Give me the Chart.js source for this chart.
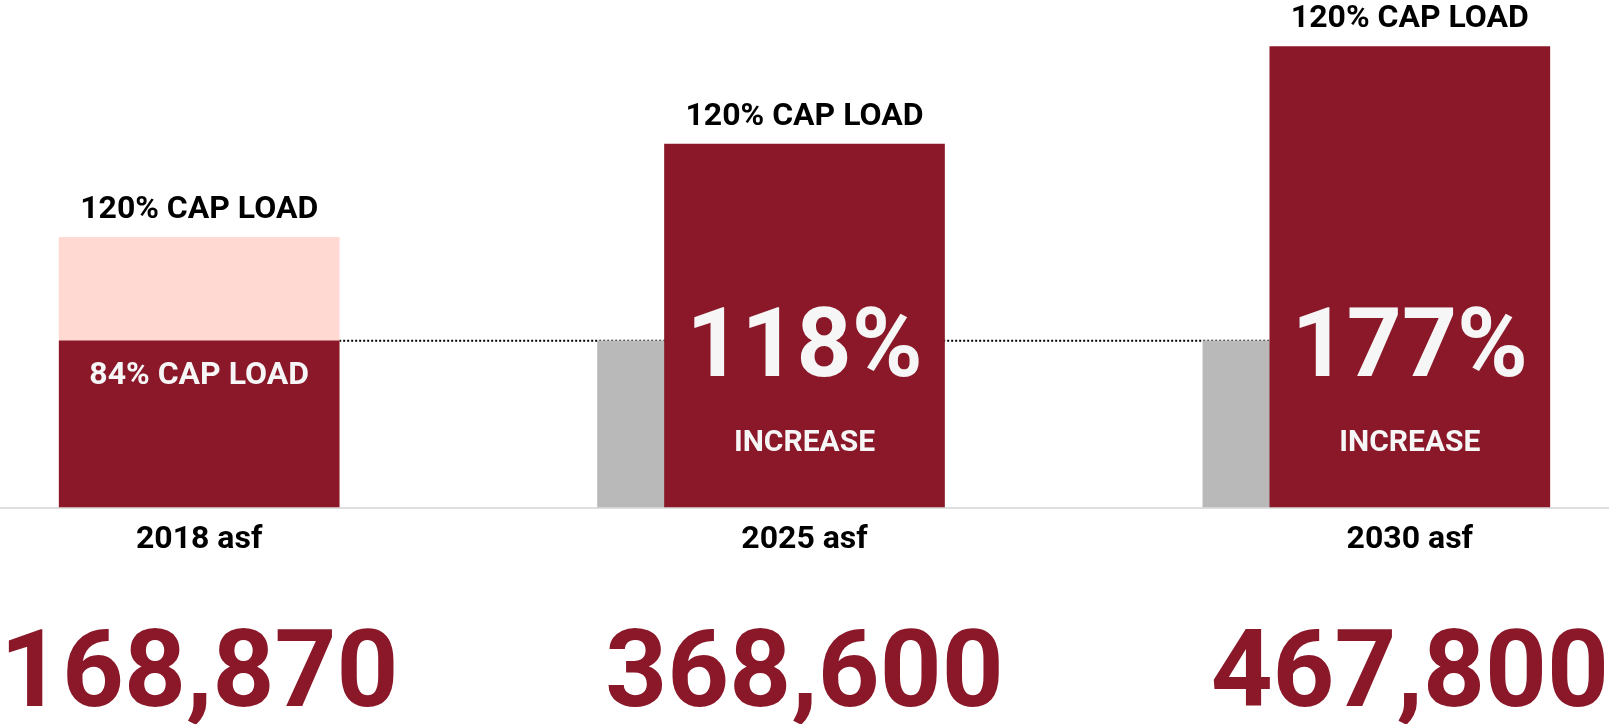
<!DOCTYPE html>
<html>
<head>
<meta charset="utf-8">
<title>Capacity load by year</title>
<script src="https://cdn.jsdelivr.net/npm/chart.js@4.4.1/dist/chart.umd.min.js"></script>
<style>
    html, body { margin: 0; padding: 0; background: #ffffff; }
    #wrap { width: 1609px; height: 724px; position: relative; }
</style>
</head>
<body>
<div id="wrap"><canvas id="capChart"></canvas></div>
<script>
/* ── DATA ───────────────────────────────────── */
const categories  = ['2018 asf', '2025 asf', '2030 asf'];
const asfValues   = [168870, 368600, 467800];
const asfLabels   = ['168,870', '368,600', '467,800'];
const capTarget   = [274000, null, null];      // pale 120% cap load block on 2018
const baseAsf     = [null, 168870, 168870];    // 2018 footprint repeated beside later years
const refLine     = [168870, 168870, 168870];
const topLabels   = ['120% CAP LOAD', '120% CAP LOAD', '120% CAP LOAD'];
const bigLabels   = ['', '118%', '177%'];
const smallLabels = ['84% CAP LOAD', 'INCREASE', 'INCREASE'];

/* ── STYLE ──────────────────────────────────── */
const RED   = '#8a1829';
const PINK  = '#ffd9d2';
const GREY  = '#b9b9b9';
const WHITE = '#f6f6f6';
const PAD_X = 199;
const RED_W = 280;
const GREY_W = 67;

// grey bar sits flush against the left edge of the red bar
const step = (window.innerWidth - PAD_X * 2) / (categories.length - 1);
const greyShift = (RED_W / 2 + GREY_W / 2) / step;
const greyData = baseAsf
    .map((v, i) => v == null ? null : { x: i - greyShift, y: v })
    .filter(d => d);

Chart.defaults.font.family = 'Roboto, sans-serif';
Chart.defaults.font.weight = 'bold';

const capPx = size => size * 0.711;

function drawText(ctx, text, x, centerY, size, color) {
    ctx.font = `bold ${size}px Roboto, sans-serif`;
    ctx.fillStyle = color;
    ctx.textAlign = 'center';
    ctx.textBaseline = 'alphabetic';
    ctx.fillText(text, x, centerY + capPx(size) / 2);
}

/* ── PLUGINS ────────────────────────────────── */
const baselinePlugin = {
    id: 'baseline',
    beforeDatasetsDraw(chart) {
        const { ctx } = chart;
        const y = chart.scales.y.getPixelForValue(0);
        ctx.save();
        ctx.strokeStyle = '#dedede';
        ctx.lineWidth = 2;
        ctx.beginPath();
        ctx.moveTo(0, y + 1);
        ctx.lineTo(chart.width, y + 1);
        ctx.stroke();
        ctx.restore();
    }
};

const barTextPlugin = {
    id: 'barText',
    afterDatasetsDraw(chart) {
        const { ctx } = chart;
        const red = chart.getDatasetMeta(0).data;
        const pink = chart.getDatasetMeta(1).data;
        const base = chart.scales.y.getPixelForValue(0);
        ctx.save();
        red.forEach((bar, i) => {
            let top = bar.y;
            if (capTarget[i] != null) top = Math.min(top, pink[i].y);
            drawText(ctx, topLabels[i], bar.x, top - 30.5, 32, '#000000');
            if (bigLabels[i]) {
                drawText(ctx, bigLabels[i], bar.x, base - 165, 96, WHITE);
                drawText(ctx, smallLabels[i], bar.x, base - 66.5, 30, WHITE);
            } else {
                drawText(ctx, smallLabels[i], bar.x, bar.y + 32, 32, WHITE);
            }
        });
        ctx.restore();
    }
};

const noMarks = {
    grid: { display: false, drawTicks: false },
    border: { display: false }
};

/* ── CHART ──────────────────────────────────── */
new Chart(document.getElementById('capChart'), {
    data: {
        labels: categories,
        datasets: [
            {
                type: 'bar', label: 'asf', data: asfValues,
                backgroundColor: RED, barThickness: RED_W, grouped: false,
                order: 0, clip: false
            },
            {
                type: 'bar', label: '120% cap load', data: capTarget,
                backgroundColor: PINK, barThickness: RED_W, grouped: false,
                order: 1, clip: false
            },
            {
                type: 'bar', label: '2018 asf', data: greyData, xAxisID: 'xg',
                backgroundColor: GREY, barThickness: GREY_W, grouped: false,
                order: 2, clip: false
            },
            {
                type: 'line', label: '2018 level', data: refLine,
                borderColor: '#000000', borderWidth: 2, borderDash: [2, 2],
                pointRadius: 0, fill: false, order: 3, clip: false
            }
        ]
    },
    options: {
        responsive: true,
        maintainAspectRatio: false,
        animation: false,
        // the big asf figures hang past the bottom edge of the layout box
        layout: { padding: { left: PAD_X, right: PAD_X, top: 0, bottom: -61.6 } },
        plugins: {
            legend: { display: false },
            tooltip: { enabled: false }
        },
        scales: {
            x: {
                type: 'category', position: 'bottom', offset: false, weight: 0,
                ...noMarks,
                ticks: {
                    color: '#000000', padding: 14, autoSkip: false, maxRotation: 0,
                    font: { size: 32, weight: 'bold', lineHeight: 1.16 }
                }
            },
            xNum: {
                type: 'category', labels: asfLabels, position: 'bottom', offset: false, weight: 1,
                ...noMarks,
                ticks: {
                    color: RED, padding: 0, autoSkip: false, maxRotation: 0,
                    font: { size: 108, weight: 'bold', lineHeight: 1.977 }
                }
            },
            // zero-height helper axis, same span as x, for the grey bars
            xg: {
                type: 'linear', position: 'bottom', offset: false, weight: 2,
                min: 0, max: categories.length - 1,
                ...noMarks,
                ticks: { display: false }
            },
            y: { min: 0, max: 515000, display: false }
        }
    },
    plugins: [baselinePlugin, barTextPlugin]
});
</script>
</body>
</html>
